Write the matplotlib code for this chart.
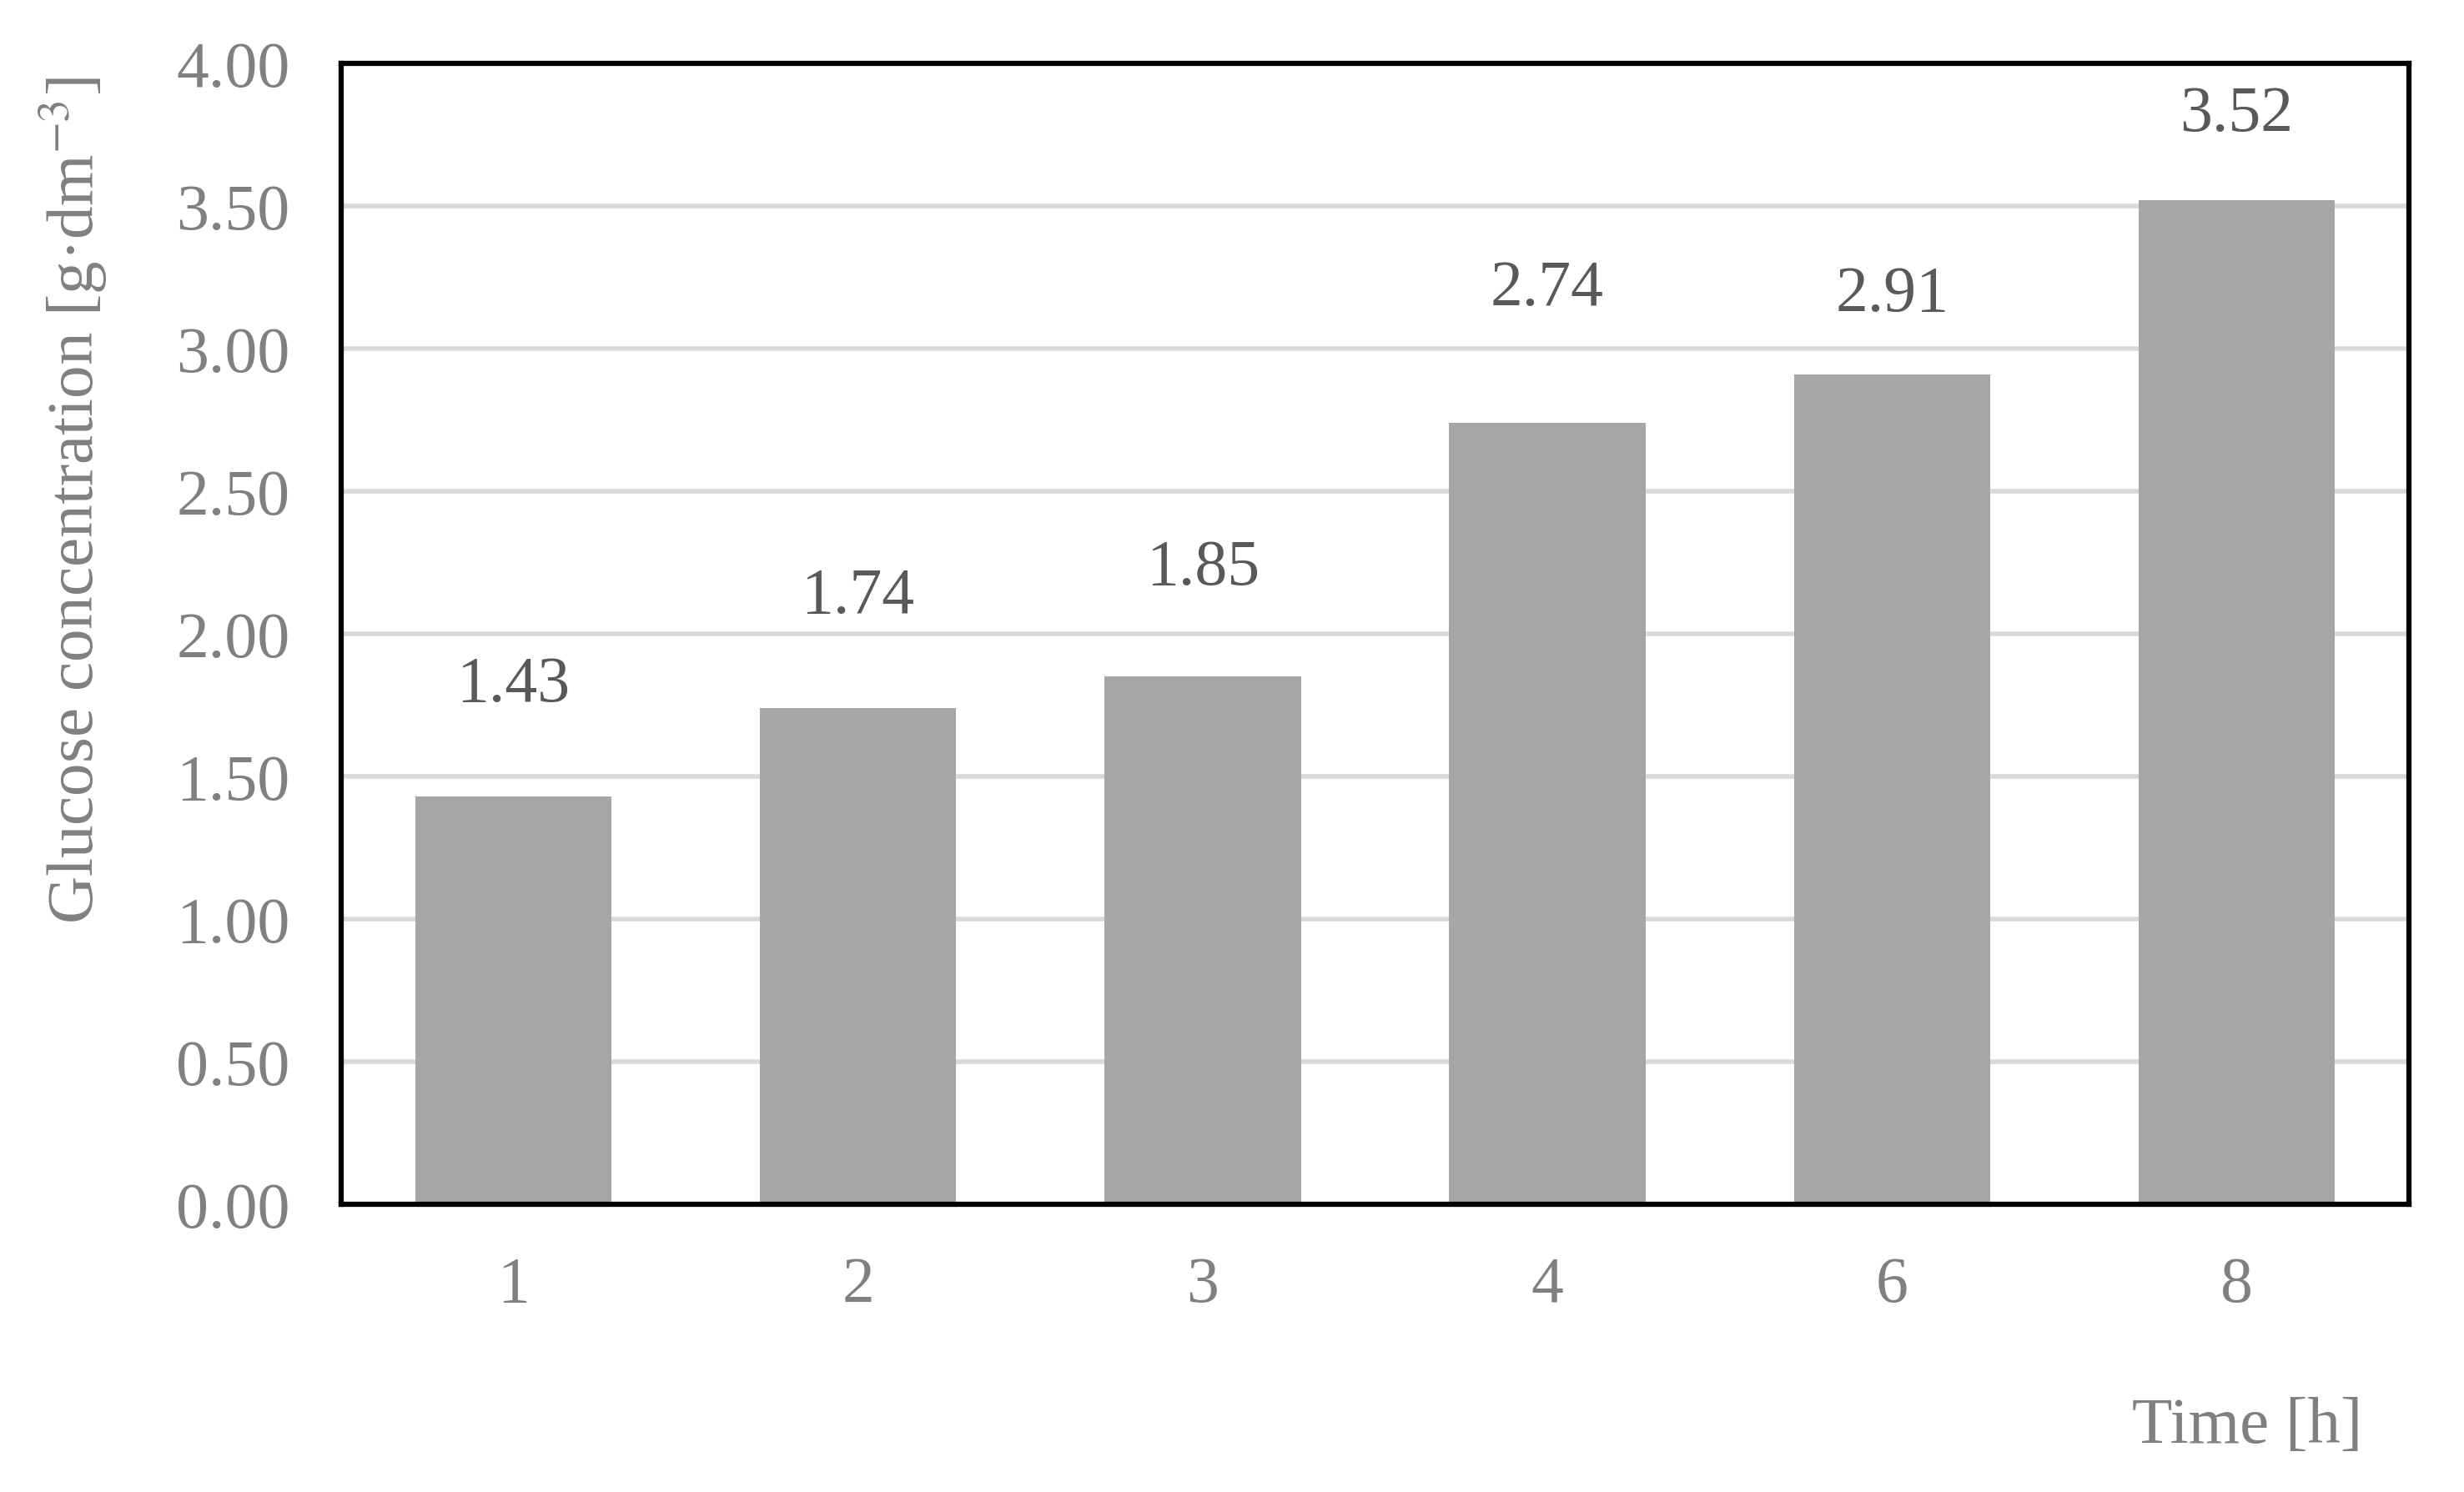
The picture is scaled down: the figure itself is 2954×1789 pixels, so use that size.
import matplotlib
matplotlib.use("Agg")
import matplotlib.pyplot as plt

# data
times = ["1", "2", "3", "4", "6", "8"]
glucose = [1.43, 1.74, 1.85, 2.74, 2.91, 3.52]
# labels in the original sit at uneven heights above the bars
label_offsets = [0.39, 0.39, 0.38, 0.47, 0.28, 0.30]
yticks = [0.0, 0.5, 1.0, 1.5, 2.0, 2.5, 3.0, 3.5, 4.0]

plt.rcParams['font.family'] = ['Liberation Serif', 'DejaVu Serif']
plt.rcParams['mathtext.fontset'] = 'stix'

fig = plt.figure(figsize=(29.54, 17.90), dpi=100)
ax = fig.add_axes([0.1384, 0.1927, 0.8393, 0.7643])

x = range(len(times))
ax.bar(x, glucose, width=0.57, color="#a6a6a6", zorder=2)

# value labels
for i, v in enumerate(glucose):
    ax.text(i, v + label_offsets[i], "%.2f" % v, ha="center", va="center",
            fontsize=56, color="#595959")

ax.set_xlim(-0.5, len(times) - 0.5)
ax.set_ylim(0, 4)
ax.set_yticks(yticks)
ax.set_yticklabels(["%.2f" % t for t in yticks])
ax.set_xticks(list(x))
ax.set_xticklabels(times)

ax.yaxis.grid(True, color="#d9d9d9", linewidth=4, zorder=0)
ax.set_axisbelow(True)

ax.tick_params(axis='both', length=0, labelsize=56, labelcolor="#808080")
ax.tick_params(axis='y', pad=44)
ax.tick_params(axis='x', pad=44)

for s in ax.spines.values():
    s.set_linewidth(4.5)
    s.set_color("black")

# axis titles placed as in the original
fig.text(88 / 2954, 1 - 600 / 1790, r"Glucose concentration [g·dm$^{\mathrm{-3}}$]",
         rotation=90, ha="center", va="center", fontsize=57, color="#808080")
fig.text(2694 / 2954, 1 - 1711 / 1790, "Time [h]", ha="center", va="center",
         fontsize=57, color="#808080")

fig.savefig("out.png", dpi=100)
